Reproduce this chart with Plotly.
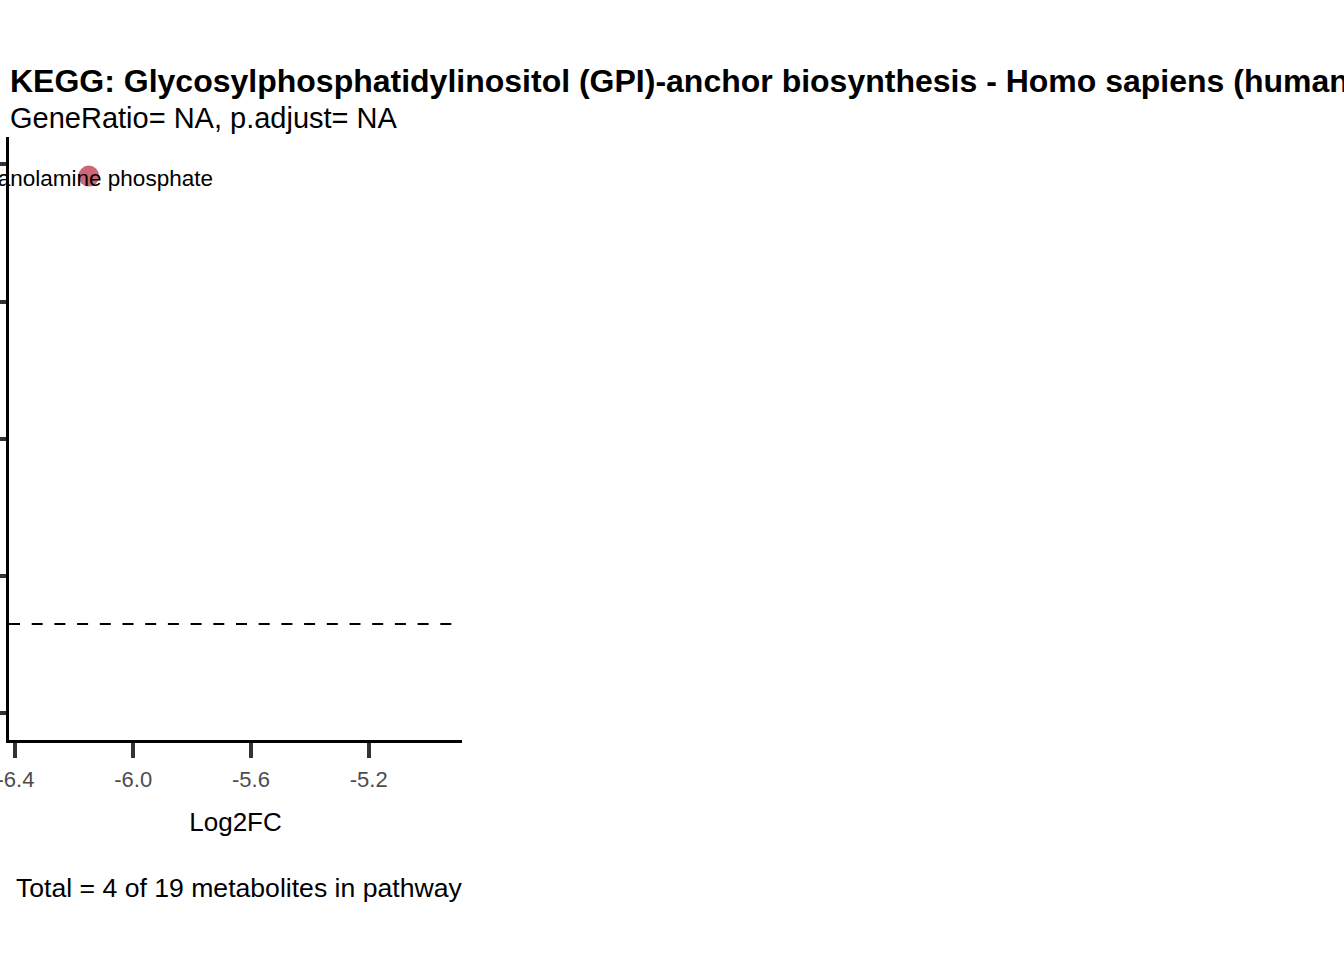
import plotly.graph_objects as go

# data
metabolites = ["Ethanolamine phosphate"]
log2fc = [-6.151]
neg_log10_p = [7.83]
threshold = 1.301  # -log10(0.05)
x_ticks = [-6.4, -6.0, -5.6, -5.2]
x_tick_labels = ["-6.4", "-6.0", "-5.6", "-5.2"]
y_ticks = [0, 2, 4, 6, 8]

title = "KEGG: Glycosylphosphatidylinositol (GPI)-anchor biosynthesis - Homo sapiens (human)"
subtitle = "GeneRatio= NA, p.adjust= NA"
caption = "Total = 4 of 19 metabolites in pathway"

FONT = "Liberation Sans, Arial, sans-serif"
W, H = 1344, 960
L, R_EDGE, T, B_EDGE = 8.5, 461.7, 137, 740

def py(p):
    return (B_EDGE - p) / (B_EDGE - T)

fig = go.Figure()
fig.add_hline(y=threshold, line=dict(color="black", width=2, dash="11px,11.7px"))
fig.add_trace(go.Scatter(
    x=log2fc, y=neg_log10_p, mode="markers",
    marker=dict(size=21, color="#CF6677", line=dict(width=0)),
    cliponaxis=False, showlegend=False, hoverinfo="skip"))
for name, xv, yv in zip(metabolites, log2fc, neg_log10_p):
    fig.add_annotation(x=xv, y=yv, xref="x", yref="y", text=name, showarrow=False,
                       xanchor="center", yanchor="middle", xshift=0, yshift=-2,
                       font=dict(family=FONT, size=22.5, color="black"))

fig.add_annotation(xref="paper", yref="paper", x=0, y=py(81), xanchor="left", yanchor="middle",
                   xshift=-1.5, text="<b>" + title + "</b>", showarrow=False,
                   font=dict(family=FONT, size=32, color="black"))
fig.add_annotation(xref="paper", yref="paper", x=0, y=py(118), xanchor="left", yanchor="middle",
                   xshift=-1.5, text=subtitle, showarrow=False,
                   font=dict(family=FONT, size=29, color="black"))
fig.add_annotation(xref="paper", yref="paper", x=1, y=py(888), xanchor="right", yanchor="middle",
                   xshift=2, text=caption, showarrow=False,
                   font=dict(family=FONT, size=26.6, color="black"))

fig.update_layout(
    width=W, height=H,
    margin=dict(l=L, r=W - R_EDGE, t=T, b=H - B_EDGE, autoexpand=False),
    paper_bgcolor="white", plot_bgcolor="white",
    font=dict(family=FONT),
    xaxis=dict(range=[-6.422, -4.883], tickvals=x_ticks, ticktext=x_tick_labels,
               showgrid=False, zeroline=False, showline=True, linecolor="black", linewidth=3,
               ticks="outside", ticklen=15, tickwidth=4, tickcolor="#333333",
               ticklabelstandoff=3, ticklabeloverflow="allow",
               tickfont=dict(family=FONT, size=22, color="#4D4D4D"),
               title=dict(text="Log2FC", font=dict(family=FONT, size=26, color="black"), standoff=22),
               automargin=False),
    yaxis=dict(range=[-0.39, 8.40], tickvals=y_ticks, showticklabels=False,
               showgrid=False, zeroline=False, showline=True, linecolor="black", linewidth=3,
               ticks="outside", ticklen=15, tickwidth=4, tickcolor="#333333",
               automargin=False),
)
fig.write_html("out.html", config={"displayModeBar": False},
               post_script="document.body.style.margin='0';document.body.style.overflow='hidden';")
